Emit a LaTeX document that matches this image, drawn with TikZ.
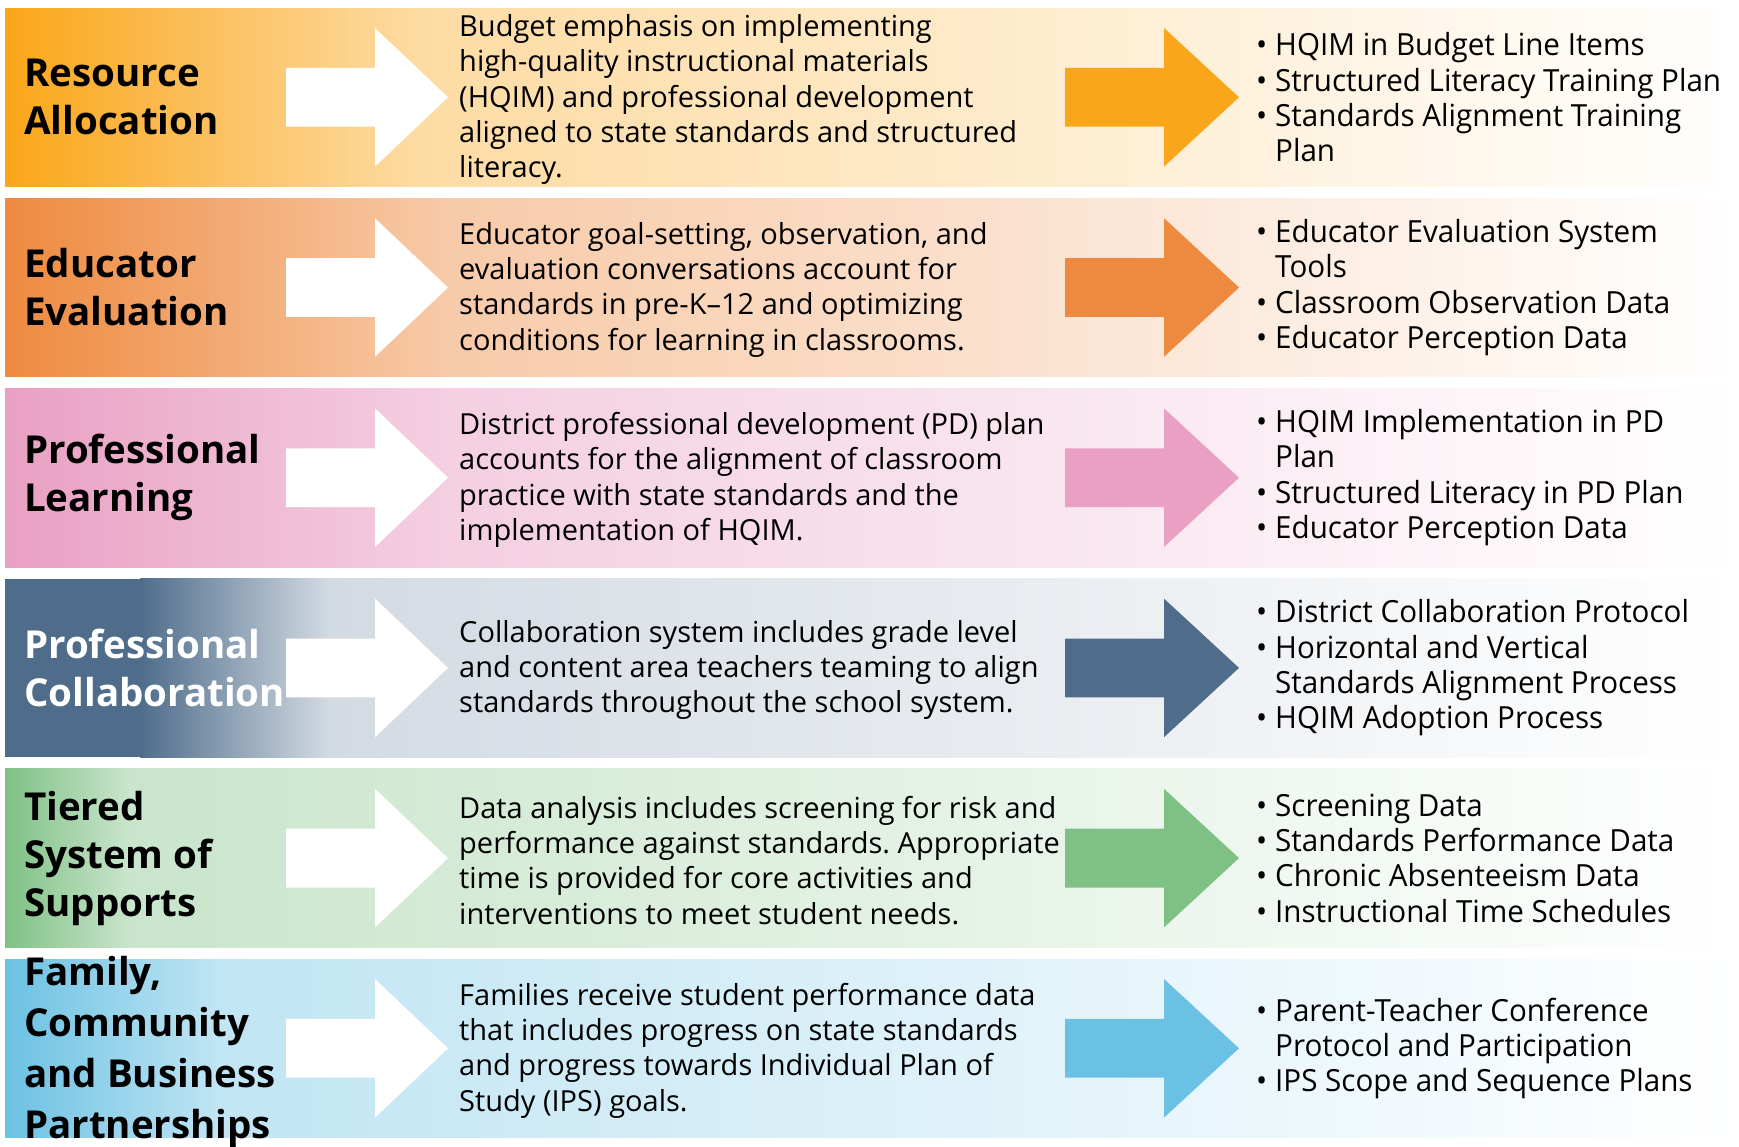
\documentclass[tikz,border=0pt]{standalone}
\usepackage{fontspec}
\setmainfont{Open Sans}
\newfontfamily\condfont[FakeStretch=0.97]{Open Sans}
\definecolor{cA}{HTML}{FAA61A}
\definecolor{cB}{HTML}{EE8A3F}
\definecolor{cC}{HTML}{E9A0C3}
\definecolor{cD}{HTML}{4F6D8B}
\definecolor{cE}{HTML}{7FC185}
\definecolor{cF}{HTML}{6BC1E3}
\tikzset{
  rowtitle/.style={anchor=west, inner sep=0pt, align=left, font=\fontsize{38.5}{48}\selectfont\bfseries},
  midtext/.style={anchor=west, inner sep=0pt, align=left, font=\fontsize{29}{35.3}\selectfont},
  restext/.style={anchor=west, inner sep=0pt, align=left, font=\condfont\fontsize{30.5}{35.3}\selectfont},
}
\newcommand\bul{\makebox[19pt][l]{•}}
\newcommand\cnt{\hspace*{19pt}}
% band: top y, colour, tint x, tint pct
\newcommand\band[4]{%
  \shade[left color=#2, right color=#2!#4!white] (5,#1) rectangle (#3,#1+178.6);
  \shade[left color=#2!#4!white, right color=white] (#3-1,#1) rectangle (1739,#1+178.6);}
% arrow: shaft start, head start, tip, centre y, fill
\newcommand\blockarrow[5]{%
  \fill[#5] (#1,#4-29.4) -- (#2,#4-29.4) -- (#2,#4-69.3) -- (#3,#4)
    -- (#2,#4+69.3) -- (#2,#4+29.4) -- (#1,#4+29.4) -- cycle;}
\frenchspacing
\begin{document}
\begin{tikzpicture}[x=1pt,y=-1pt]
\useasboundingbox[fill=white] (0,0) rectangle (1739,1146);

% row bands
\band{8}{cA}{420}{40}
\band{198.2}{cB}{450}{45}
\band{388.4}{cC}{450}{50}
\fill[cD] (5,578.6) rectangle (141,757.2);
\shade[left color=cD, right color=cD!25!white] (140,578.6) rectangle (330,757.2);
\shade[left color=cD!25!white, right color=white] (329,578.6) rectangle (1739,757.2);
\shade[left color=cE, right color=cE!42!white] (5,768.8) rectangle (130,947.4);
\shade[left color=cE!42!white, right color=white] (129,768.8) rectangle (1739,947.4);
\shade[left color=cF, right color=cF!42!white] (5,959) rectangle (220,1137.6);
\shade[left color=cF!42!white, right color=white] (219,959) rectangle (1739,1137.6);

% arrows
\blockarrow{286}{375}{448}{97.3}{white}
\blockarrow{1065}{1164}{1239}{97.3}{cA}
\blockarrow{286}{375}{448}{287.5}{white}
\blockarrow{1065}{1164}{1239}{287.5}{cB}
\blockarrow{286}{375}{448}{477.7}{white}
\blockarrow{1065}{1164}{1239}{477.7}{cC}
\blockarrow{286}{375}{448}{667.9}{white}
\blockarrow{1065}{1164}{1239}{667.9}{cD}
\blockarrow{286}{375}{448}{858.1}{white}
\blockarrow{1065}{1164}{1239}{858.1}{cE}
\blockarrow{286}{375}{448}{1048.3}{white}
\blockarrow{1065}{1164}{1239}{1048.3}{cF}

% titles
\node[rowtitle] (t1) at (24,97.3) {Resource\\Allocation};
\node[rowtitle] (t2) at (24,287.5) {Educator\\Evaluation};
\node[rowtitle] (t3) at (24,477.7) {Professional\\Learning};
\node[rowtitle, text=white] (t4) at (24,667.9) {Professional\\Collaboration};
\node[rowtitle] (t5) at (24,858.1) {Tiered\\System of\\Supports};
\node[rowtitle, font=\fontsize{38.5}{51}\selectfont\bfseries] (t6) at (24,1052) {Family,\\Community\\and Business\\Partnerships};

% middle texts
\node[midtext] (m1) at (459,99.5) {Budget emphasis on implementing\\high-quality instructional materials\\(HQIM) and professional development\\aligned to state standards and structured\\literacy.};
\node[midtext] (m2) at (459,289.7) {Educator goal-setting, observation, and\\evaluation conversations account for\\standards in pre-K–12 and optimizing\\conditions for learning in classrooms.};
\node[midtext] (m3) at (459,479.9) {District professional development (PD) plan\\accounts for the alignment of classroom\\practice with state standards and the\\implementation of HQIM.};
\node[midtext] (m4) at (459,670.1) {Collaboration system includes grade level\\and content area teachers teaming to align\\standards throughout the school system.};
\node[midtext] (m5) at (459,860.3) {Data analysis includes screening for risk and\\performance against standards. Appropriate\\time is provided for core activities and\\interventions to meet student needs.};
\node[midtext] (m6) at (459,1050.5) {Families receive student performance data\\that includes progress on state standards\\and progress towards Individual Plan of\\Study (IPS) goals.};

% results
\node[restext] (r1) at (1256,97.3) {\bul HQIM in Budget Line Items\\\bul Structured Literacy Training Plan\\\bul Standards Alignment Training\\\cnt Plan};
\node[restext] (r2) at (1256,287.5) {\bul Educator Evaluation System\\\cnt Tools\\\bul Classroom Observation Data\\\bul Educator Perception Data};
\node[restext] (r3) at (1256,477.7) {\bul HQIM Implementation in PD\\\cnt Plan\\\bul Structured Literacy in PD Plan\\\bul Educator Perception Data};
\node[restext] (r4) at (1256,667.9) {\bul District Collaboration Protocol\\\bul Horizontal and Vertical\\\cnt Standards Alignment Process\\\bul HQIM Adoption Process};
\node[restext] (r5) at (1256,858.1) {\bul Screening Data\\\bul Standards Performance Data\\\bul Chronic Absenteeism Data\\\bul Instructional Time Schedules};
\node[restext] (r6) at (1256,1048.3) {\bul Parent-Teacher Conference\\\cnt Protocol and Participation\\\bul IPS Scope and Sequence Plans};
\end{tikzpicture}
\end{document}
